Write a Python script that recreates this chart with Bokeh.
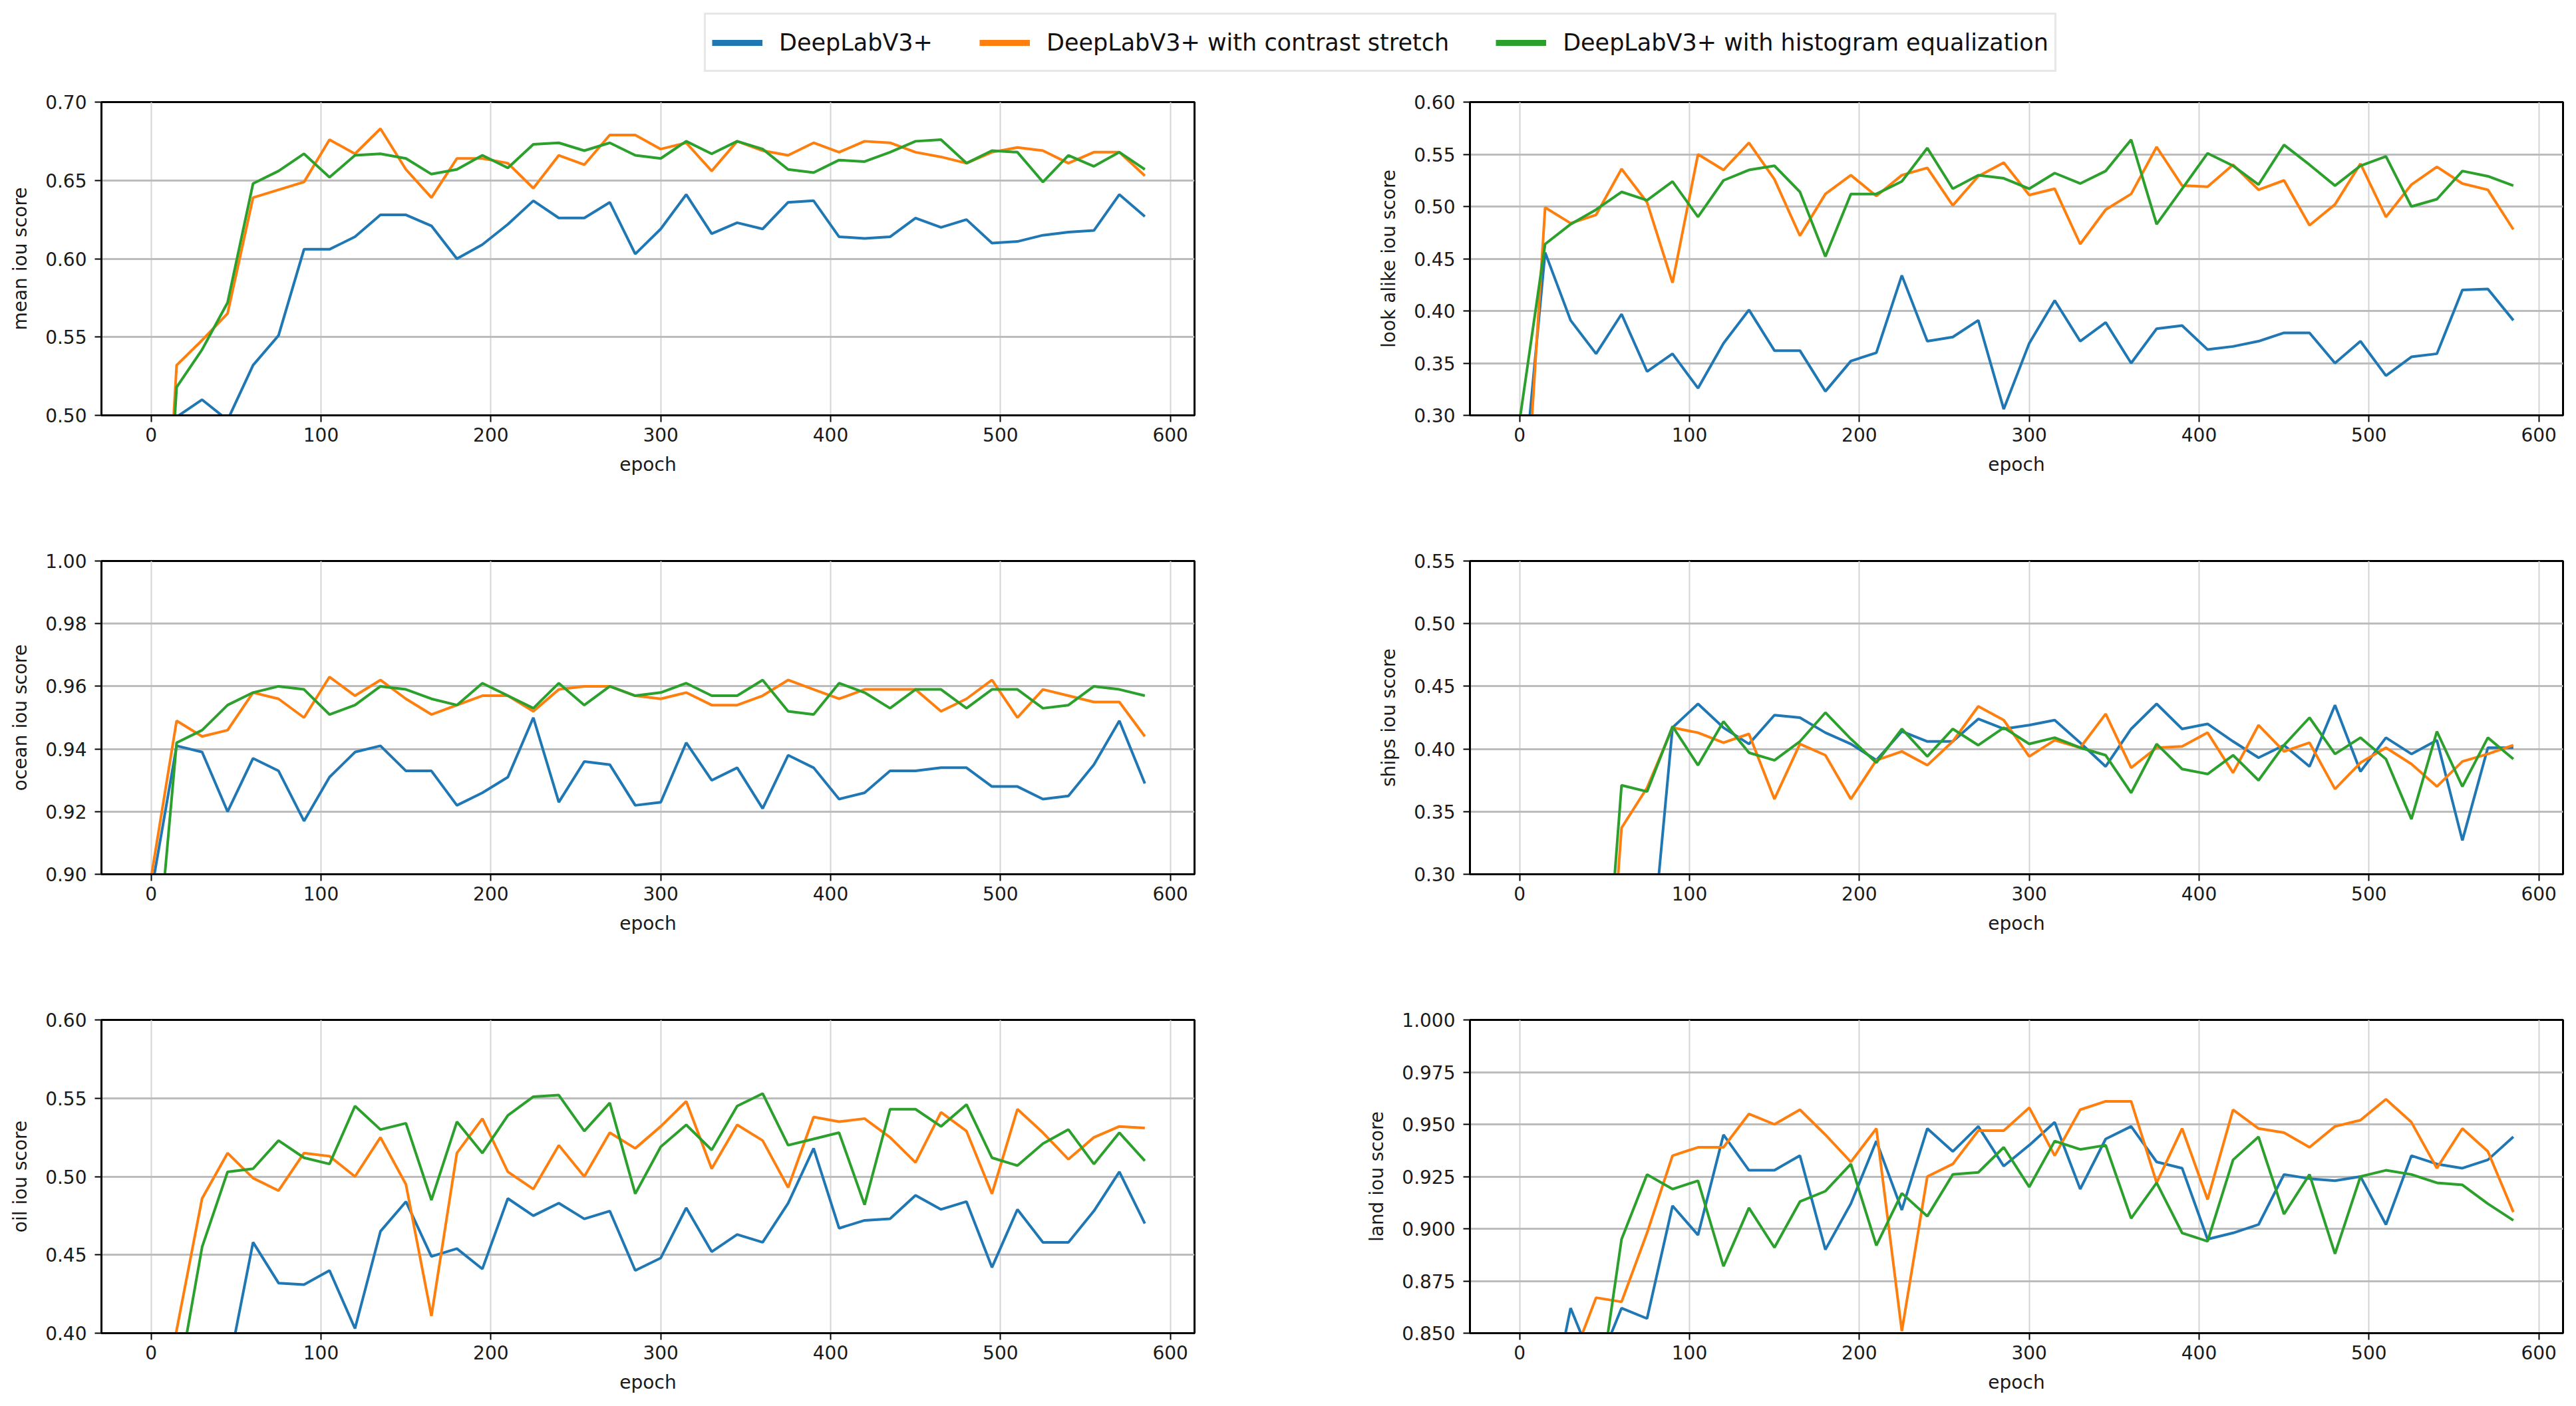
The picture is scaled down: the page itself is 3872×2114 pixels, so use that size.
from bokeh.plotting import figure
from bokeh.models import Range1d, FixedTicker, PrintfTickFormatter, Legend, LegendItem
from bokeh.layouts import column, row
from bokeh.embed import file_html
from bokeh.resources import INLINE

FONT = "DejaVu Sans"

series_names = ["DeepLabV3+", "DeepLabV3+ with contrast stretch", "DeepLabV3+ with histogram equalization"]
colors = ["#1f77b4", "#ff7f0e", "#2ca02c"]

epochs = [0, 15, 30, 45, 60, 75, 90, 105, 120, 135, 150, 165, 180, 195, 210, 225, 240, 255, 270, 285,
          300, 315, 330, 345, 360, 375, 390, 405, 420, 435, 450, 465, 480, 495, 510, 525, 540, 555, 570, 585]
x_ticks = [0, 100, 200, 300, 400, 500, 600]

# mean iou score
mean_base = [0.20, 0.499, 0.510, 0.497, 0.532, 0.551, 0.606, 0.606, 0.614, 0.628, 0.628, 0.621, 0.600, 0.609, 0.622,
             0.637, 0.626, 0.626, 0.636, 0.603, 0.619, 0.641, 0.616, 0.623, 0.619, 0.636, 0.637, 0.614, 0.613, 0.614,
             0.626, 0.620, 0.625, 0.610, 0.611, 0.615, 0.617, 0.618, 0.641, 0.627]
mean_cs = [0.25, 0.532, 0.548, 0.565, 0.639, 0.644, 0.649, 0.676, 0.667, 0.683, 0.657, 0.639, 0.664, 0.664, 0.661,
           0.645, 0.666, 0.660, 0.679, 0.679, 0.670, 0.674, 0.656, 0.675, 0.669, 0.666, 0.674, 0.668, 0.675, 0.674,
           0.668, 0.665, 0.661, 0.668, 0.671, 0.669, 0.661, 0.668, 0.668, 0.653]
mean_he = [0.25, 0.518, 0.542, 0.572, 0.648, 0.656, 0.667, 0.652, 0.666, 0.667, 0.664, 0.654, 0.657, 0.666, 0.658,
           0.673, 0.674, 0.669, 0.674, 0.666, 0.664, 0.675, 0.667, 0.675, 0.670, 0.657, 0.655, 0.663, 0.662, 0.668,
           0.675, 0.676, 0.661, 0.669, 0.668, 0.649, 0.666, 0.659, 0.668, 0.657]

# look alike iou score
look_base = [0.196, 0.456, 0.391, 0.359, 0.397, 0.342, 0.359, 0.326, 0.369, 0.401, 0.362, 0.362, 0.323, 0.352, 0.360,
             0.434, 0.371, 0.375, 0.391, 0.306, 0.369, 0.410, 0.371, 0.389, 0.350, 0.383, 0.386, 0.363, 0.366, 0.371,
             0.379, 0.379, 0.350, 0.371, 0.338, 0.356, 0.359, 0.420, 0.421, 0.391]
look_cs = [0.11, 0.499, 0.484, 0.492, 0.536, 0.504, 0.427, 0.550, 0.535, 0.561, 0.526, 0.472, 0.512, 0.530, 0.510,
           0.530, 0.537, 0.501, 0.529, 0.542, 0.511, 0.517, 0.464, 0.497, 0.512, 0.557, 0.520, 0.519, 0.540, 0.516,
           0.525, 0.482, 0.502, 0.541, 0.490, 0.521, 0.538, 0.522, 0.516, 0.478]
look_he = [0.295, 0.464, 0.483, 0.497, 0.514, 0.506, 0.524, 0.490, 0.525, 0.535, 0.539, 0.514, 0.452, 0.512, 0.512,
           0.524, 0.556, 0.517, 0.530, 0.527, 0.517, 0.532, 0.522, 0.534, 0.564, 0.483, 0.517, 0.551, 0.539, 0.521,
           0.559, 0.540, 0.520, 0.539, 0.548, 0.500, 0.507, 0.534, 0.529, 0.520]

# ocean iou score
ocean_base = [0.894, 0.941, 0.939, 0.920, 0.937, 0.933, 0.917, 0.931, 0.939, 0.941, 0.933, 0.933, 0.922, 0.926, 0.931,
              0.950, 0.923, 0.936, 0.935, 0.922, 0.923, 0.942, 0.930, 0.934, 0.921, 0.938, 0.934, 0.924, 0.926, 0.933,
              0.933, 0.934, 0.934, 0.928, 0.928, 0.924, 0.925, 0.935, 0.949, 0.929]
ocean_cs = [0.899, 0.949, 0.944, 0.946, 0.958, 0.956, 0.950, 0.963, 0.957, 0.962, 0.956, 0.951, 0.954, 0.957, 0.957,
            0.952, 0.959, 0.960, 0.960, 0.957, 0.956, 0.958, 0.954, 0.954, 0.957, 0.962, 0.959, 0.956, 0.959, 0.959,
            0.959, 0.952, 0.956, 0.962, 0.950, 0.959, 0.957, 0.955, 0.955, 0.944]
ocean_he = [0.851, 0.942, 0.946, 0.954, 0.958, 0.960, 0.959, 0.951, 0.954, 0.960, 0.959, 0.956, 0.954, 0.961, 0.957,
            0.953, 0.961, 0.954, 0.960, 0.957, 0.958, 0.961, 0.957, 0.957, 0.962, 0.952, 0.951, 0.961, 0.958, 0.953,
            0.959, 0.959, 0.953, 0.959, 0.959, 0.953, 0.954, 0.960, 0.959, 0.957]

# ships iou score
ships_base = [0.0, 0.02, 0.05, 0.08, 0.12, 0.198, 0.417, 0.436, 0.417, 0.404, 0.427, 0.425, 0.413, 0.404, 0.391,
              0.414, 0.406, 0.406, 0.424, 0.416, 0.419, 0.423, 0.405, 0.386, 0.416, 0.436, 0.416, 0.420, 0.406, 0.393,
              0.403, 0.386, 0.435, 0.382, 0.409, 0.396, 0.407, 0.327, 0.401, 0.401]
ships_cs = [0.0, 0.01, 0.03, 0.06, 0.337, 0.369, 0.417, 0.413, 0.405, 0.412, 0.360, 0.404, 0.395, 0.360, 0.391,
            0.398, 0.387, 0.406, 0.434, 0.423, 0.394, 0.407, 0.401, 0.428, 0.385, 0.401, 0.402, 0.413, 0.381, 0.419,
            0.398, 0.405, 0.368, 0.389, 0.401, 0.388, 0.370, 0.390, 0.396, 0.403]
ships_he = [0.0, 0.02, 0.05, 0.105, 0.371, 0.366, 0.418, 0.387, 0.422, 0.397, 0.391, 0.406, 0.429, 0.408, 0.389,
            0.416, 0.394, 0.416, 0.403, 0.417, 0.404, 0.409, 0.401, 0.395, 0.365, 0.404, 0.384, 0.380, 0.395, 0.375,
            0.403, 0.425, 0.396, 0.409, 0.392, 0.344, 0.414, 0.370, 0.409, 0.392]

# oil iou score
oil_base = [0.20, 0.25, 0.30, 0.375, 0.458, 0.432, 0.431, 0.440, 0.403, 0.465, 0.484, 0.449, 0.454, 0.441, 0.486,
            0.475, 0.483, 0.473, 0.478, 0.440, 0.448, 0.480, 0.452, 0.463, 0.458, 0.483, 0.518, 0.467, 0.472, 0.473,
            0.488, 0.479, 0.484, 0.442, 0.479, 0.458, 0.458, 0.478, 0.503, 0.470]
oil_cs = [0.30, 0.402, 0.486, 0.515, 0.499, 0.491, 0.515, 0.513, 0.500, 0.525, 0.495, 0.411, 0.515, 0.537, 0.503,
          0.492, 0.520, 0.500, 0.528, 0.518, 0.532, 0.548, 0.505, 0.533, 0.523, 0.493, 0.538, 0.535, 0.537, 0.525,
          0.509, 0.541, 0.529, 0.489, 0.543, 0.528, 0.511, 0.525, 0.532, 0.531]
oil_he = [0.30, 0.363, 0.455, 0.503, 0.505, 0.523, 0.512, 0.508, 0.545, 0.530, 0.534, 0.485, 0.535, 0.515, 0.539,
          0.551, 0.552, 0.529, 0.547, 0.489, 0.519, 0.533, 0.517, 0.545, 0.553, 0.520, 0.524, 0.528, 0.482, 0.543,
          0.543, 0.532, 0.546, 0.512, 0.507, 0.521, 0.530, 0.508, 0.528, 0.510]

# land iou score
land_base = [0.70, 0.802, 0.862, 0.832, 0.862, 0.857, 0.911, 0.897, 0.945, 0.928, 0.928, 0.935, 0.890, 0.912, 0.942,
             0.909, 0.948, 0.937, 0.949, 0.930, 0.940, 0.951, 0.919, 0.943, 0.949, 0.932, 0.929, 0.895, 0.898, 0.902,
             0.926, 0.924, 0.923, 0.925, 0.902, 0.935, 0.931, 0.929, 0.933, 0.944]
land_cs = [0.70, 0.78, 0.835, 0.867, 0.865, 0.898, 0.935, 0.939, 0.939, 0.955, 0.950, 0.957, 0.945, 0.932, 0.948,
           0.851, 0.925, 0.931, 0.947, 0.947, 0.958, 0.935, 0.957, 0.961, 0.961, 0.922, 0.948, 0.914, 0.957, 0.948,
           0.946, 0.939, 0.949, 0.952, 0.962, 0.951, 0.929, 0.948, 0.937, 0.908]
land_he = [0.70, 0.74, 0.78, 0.811, 0.895, 0.926, 0.919, 0.923, 0.882, 0.910, 0.891, 0.913, 0.918, 0.931, 0.892,
           0.917, 0.906, 0.926, 0.927, 0.939, 0.920, 0.942, 0.938, 0.940, 0.905, 0.922, 0.898, 0.894, 0.933, 0.944,
           0.907, 0.926, 0.888, 0.925, 0.928, 0.926, 0.922, 0.921, 0.912, 0.904]

mean_ticks = [0.50, 0.55, 0.60, 0.65, 0.70]
look_ticks = [0.30, 0.35, 0.40, 0.45, 0.50, 0.55, 0.60]
ocean_ticks = [0.90, 0.92, 0.94, 0.96, 0.98, 1.00]
ships_ticks = [0.30, 0.35, 0.40, 0.45, 0.50, 0.55]
oil_ticks = [0.40, 0.45, 0.50, 0.55, 0.60]
land_ticks = [0.850, 0.875, 0.900, 0.925, 0.950, 0.975, 1.000]

FW, FH = 1643, 471


def panel(ylabel, series, yticks, fmt, left_col, last_row):
    p = figure(frame_width=FW, frame_height=FH,
               x_range=Range1d(-29.25, 614.25), y_range=Range1d(yticks[0], yticks[-1]),
               output_backend="svg", toolbar_location=None,
               min_border_left=(152 if left_col else 160), min_border_right=(254 if left_col else 12),
               min_border_top=23, min_border_bottom=(104 if last_row else 196),
               background_fill_color="white", border_fill_color="white")
    for vals, c in zip(series, colors):
        p.line(epochs, vals, line_color=c, line_width=4)
    p.xaxis.ticker = FixedTicker(ticks=x_ticks)
    p.yaxis.ticker = FixedTicker(ticks=yticks)
    p.yaxis.formatter = PrintfTickFormatter(format=fmt)
    p.xaxis.axis_label = "epoch"
    p.yaxis.axis_label = ylabel
    for ax in (p.xaxis[0], p.yaxis[0]):
        ax.axis_label_text_font = FONT
        ax.axis_label_text_font_size = "28px"
        ax.axis_label_text_font_style = "normal"
        ax.axis_label_text_color = "#1a1a1a"
        ax.major_label_text_font = FONT
        ax.major_label_text_font_size = "28px"
        ax.major_label_text_color = "#1a1a1a"
        ax.axis_line_color = "black"
        ax.axis_line_width = 3
        ax.major_tick_line_color = "black"
        ax.major_tick_line_width = 2
        ax.major_tick_out = 10
        ax.major_tick_in = 0
        ax.minor_tick_line_color = None
    p.xaxis.major_label_standoff = 8
    p.yaxis.major_label_standoff = 12
    p.xaxis.axis_label_standoff = 15
    p.yaxis.axis_label_standoff = 18
    p.xgrid.grid_line_color = "#d4d4d4"
    p.xgrid.grid_line_width = 2
    p.ygrid.grid_line_color = "#bcbcbc"
    p.ygrid.grid_line_width = 3
    p.outline_line_color = "black"
    p.outline_line_width = 3
    p.outline_line_alpha = 1.0
    return p


p1 = panel("mean iou score", [mean_base, mean_cs, mean_he], mean_ticks, "%.2f", True, False)
p2 = panel("look alike iou score", [look_base, look_cs, look_he], look_ticks, "%.2f", False, False)
p3 = panel("ocean iou score", [ocean_base, ocean_cs, ocean_he], ocean_ticks, "%.2f", True, False)
p4 = panel("ships iou score", [ships_base, ships_cs, ships_he], ships_ticks, "%.2f", False, False)
p5 = panel("oil iou score", [oil_base, oil_cs, oil_he], oil_ticks, "%.2f", True, True)
p6 = panel("land iou score", [land_base, land_cs, land_he], land_ticks, "%.3f", False, True)

hdr = figure(width=3864, height=130, x_range=Range1d(0, 1), y_range=Range1d(0, 1),
             output_backend="svg", toolbar_location=None,
             x_axis_location=None, y_axis_location=None, min_border=0,
             background_fill_color="white", border_fill_color="white")
hdr.grid.visible = False
hdr.outline_line_color = None
# legend proxies: drawn outside the header's visible range
legend_renderers = [hdr.line([5, 6], [5, 6], line_color=c, line_width=9) for c in colors]
legend = Legend(items=[LegendItem(label=n, renderers=[r]) for n, r in zip(series_names, legend_renderers)],
                orientation="horizontal", location=(1058, 22),
                label_text_font=FONT, label_text_font_size="35px", label_text_color="#111111",
                glyph_width=76, glyph_height=40, label_height=65, label_standoff=25,
                spacing=70, padding=9, margin=0,
                border_line_color="#cfcfcf", border_line_width=3,
                background_fill_color="white", background_fill_alpha=1.0)
hdr.add_layout(legend, "center")

layout = column(hdr, row(p1, p2), row(p3, p4), row(p5, p6))

open("out.html", "w").write(file_html(layout, INLINE))
